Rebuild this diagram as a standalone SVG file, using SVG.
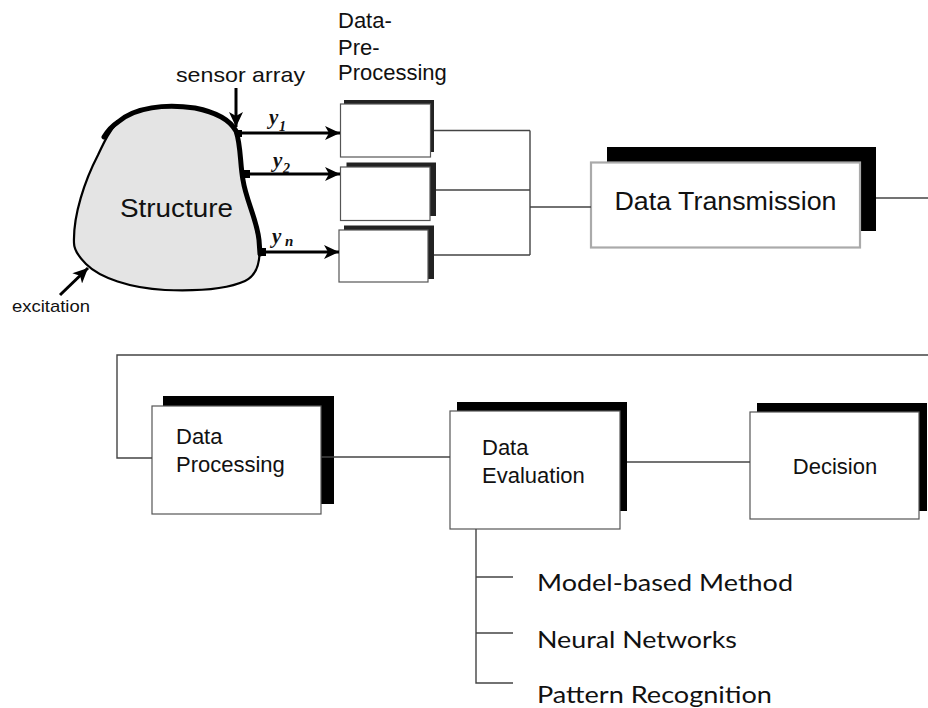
<svg xmlns="http://www.w3.org/2000/svg" width="928" height="708" viewBox="0 0 928 708">
  <style>
    .lbl { font-family: "Liberation Sans", Arial, sans-serif; fill: #111; }
    .sig { font-family: "Liberation Serif", "Times New Roman", serif; font-weight: bold; font-style: italic; fill: #111; }
    .list { font-family: Lato, "Open Sans", sans-serif; fill: #111; font-size: 23px; }
    .wire { fill: none; stroke: #444; stroke-width: 1.4; }
    .arrow { fill: none; stroke: #000; stroke-width: 3; }
    .shadow { fill: #000; }
    .shadow-pre { fill: #222; }
    .front { fill: #fff; stroke: #555; stroke-width: 1.2; }
    .front-gray { fill: #fff; stroke: #aaa; stroke-width: 2.2; }
  </style>
  <defs>
    <marker id="head" markerUnits="userSpaceOnUse" markerWidth="16" markerHeight="14" refX="15" refY="7" orient="auto">
      <path d="M0,0 L15,7 L0,14 L4,7 Z" fill="#000"/>
    </marker>
  </defs>

  <rect width="928" height="708" fill="#fff"/>

  <!-- structure body with sensor-covered edge -->
  <g id="structure">
    <path d="M 74,243 C 73,215 85,180 98,155 C 105,140 110,130 118,122 C 135,107 165,104 195,108 C 215,112 230,120 236,131 C 241,145 240,165 243,180 C 246,200 257,220 259,240 C 261,258 258,275 245,281 C 225,290 190,291 165,290 C 130,288 100,278 86,264 C 78,256 74,250 74,243 Z" fill="#e4e4e4" stroke="#000" stroke-width="2.2"/>
    <path d="M 104,137 C 108,130 112,126 118,122 C 135,107 165,104 195,108 C 215,112 230,120 236,131 C 241,145 240,165 243,180 C 246,200 257,220 259,240 L 260,254" fill="none" stroke="#000" stroke-width="5" stroke-linecap="round"/>
    <rect x="235" y="130" width="7" height="7" fill="#000"/>
    <rect x="243" y="170" width="7" height="8" fill="#000"/>
    <rect x="258" y="248" width="8" height="8" fill="#000"/>
    <text class="lbl" x="120" y="217" font-size="26" textLength="113" lengthAdjust="spacingAndGlyphs">Structure</text>
  </g>

  <g id="sensor-array">
    <text class="lbl" x="176" y="82" font-size="21" textLength="129" lengthAdjust="spacingAndGlyphs">sensor array</text>
    <line class="arrow" x1="236" y1="88" x2="236" y2="127" stroke-width="2" marker-end="url(#head)"/>
  </g>

  <g id="excitation">
    <text class="lbl" x="12" y="312" font-size="17" textLength="78" lengthAdjust="spacingAndGlyphs">excitation</text>
    <line class="arrow" x1="60" y1="295" x2="88" y2="268" stroke-width="2" marker-end="url(#head)"/>
  </g>

  <g id="pre-processing-label">
    <text class="lbl" x="338" y="28" font-size="22">Data-</text>
    <text class="lbl" x="338" y="55" font-size="22">Pre-</text>
    <text class="lbl" x="338" y="80" font-size="22">Processing</text>
  </g>

  <g id="pre1">
    <rect class="shadow-pre" x="344" y="100" width="90" height="52"/>
    <rect class="front" x="340.5" y="104" width="90" height="53"/>
  </g>
  <g id="pre2">
    <rect class="shadow-pre" x="346.5" y="162.5" width="89.5" height="53.5"/>
    <rect class="front" x="340.5" y="167" width="89.5" height="53.5"/>
  </g>
  <g id="pre3">
    <rect class="shadow-pre" x="344" y="225.5" width="90" height="53.5"/>
    <rect class="front" x="339" y="230" width="89" height="52"/>
  </g>

  <g id="data-transmission">
    <rect class="shadow" x="607" y="147" width="269" height="84"/>
    <rect class="front-gray" x="591" y="162.5" width="269" height="85"/>
    <text class="lbl" x="725.5" y="210" font-size="25" text-anchor="middle" textLength="222" lengthAdjust="spacingAndGlyphs">Data Transmission</text>
  </g>

  <g id="data-processing">
    <rect class="shadow" x="163" y="396" width="171" height="108"/>
    <rect class="front" x="152" y="406" width="169" height="108"/>
    <text class="lbl" x="176" y="444" font-size="22">Data</text>
    <text class="lbl" x="176" y="472" font-size="22">Processing</text>
  </g>

  <g id="data-evaluation">
    <rect class="shadow" x="457" y="402" width="170" height="109"/>
    <rect class="front" x="450" y="411" width="170" height="118"/>
    <text class="lbl" x="482" y="455" font-size="22">Data</text>
    <text class="lbl" x="482" y="483" font-size="22">Evaluation</text>
  </g>

  <g id="decision">
    <rect class="shadow" x="757" y="403" width="170" height="108"/>
    <rect class="front" x="750" y="412" width="169" height="107"/>
    <text class="lbl" x="835" y="474" font-size="22" text-anchor="middle">Decision</text>
  </g>

  <g id="methods">
    <text class="list" x="537" y="591" textLength="256" lengthAdjust="spacingAndGlyphs">Model-based Method</text>
    <text class="list" x="537" y="648" textLength="200" lengthAdjust="spacingAndGlyphs">Neural Networks</text>
    <text class="list" x="537" y="703" textLength="235" lengthAdjust="spacingAndGlyphs">Pattern Recognition</text>
  </g>

  <g id="connectors">
    <!-- sensor signals -->
    <line class="arrow" x1="240" y1="133" x2="340" y2="133" marker-end="url(#head)"/>
    <line class="arrow" x1="249" y1="174" x2="340" y2="174" marker-end="url(#head)"/>
    <line class="arrow" x1="265" y1="252" x2="339" y2="252" marker-end="url(#head)"/>
    <text class="sig" x="269" y="124" font-size="21">y</text>
    <text class="sig" x="279" y="131" font-size="14">1</text>
    <text class="sig" x="273" y="167" font-size="21">y</text>
    <text class="sig" x="283" y="173" font-size="14">2</text>
    <text class="sig" x="272" y="243" font-size="21">y</text>
    <text class="sig" x="285" y="246" font-size="15">n</text>

    <!-- pre-processing bus to transmission -->
    <path class="wire" d="M434,130.5 H530 M436,190 H530 M434,255 H530 M530,130.5 V255 M530,207 H591"/>
    <!-- transmission to processing -->
    <path class="wire" d="M876,198 H928"/>
    <path class="wire" d="M928,355 H117 V458 H152"/>
    <!-- processing chain -->
    <path class="wire" d="M321,457 H450"/>
    <path class="wire" d="M627,462 H750"/>
    <!-- evaluation methods -->
    <path class="wire" d="M476,529 V683 H513 M476,577 H513 M476,633 H513"/>
  </g>
</svg>
